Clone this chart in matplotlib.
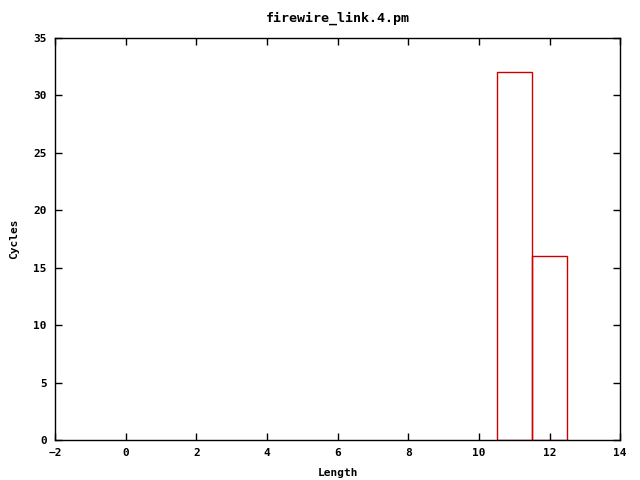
import matplotlib
matplotlib.use('Agg')
import matplotlib.pyplot as plt

lengths = [11, 12]
cycles = [32, 16]

plt.rcParams['font.family'] = 'DejaVu Sans Mono'
plt.rcParams['font.weight'] = 'bold'
plt.rcParams['font.size'] = 8

fig = plt.figure(figsize=(6.4, 4.8), dpi=100)
ax = fig.add_axes([0.086, 0.083, 0.883, 0.838])

ax.bar(lengths, cycles, width=1.0, fill=False, edgecolor='#cc0000', linewidth=1)

ax.set_xlim(-2, 14)
ax.set_ylim(0, 35)
ax.set_xticks(range(-2, 15, 2))
ax.set_yticks(range(0, 36, 5))
ax.tick_params(direction='in', top=True, right=True, length=5, width=1, pad=6)
for s in ax.spines.values():
    s.set_linewidth(1)

ax.set_xlabel('Length', fontweight='bold', labelpad=7)
ax.set_ylabel('Cycles', fontweight='bold', labelpad=10)
ax.set_title('firewire_link.4.pm', fontweight='bold', pad=12)

fig.savefig('out.png', dpi=100)
